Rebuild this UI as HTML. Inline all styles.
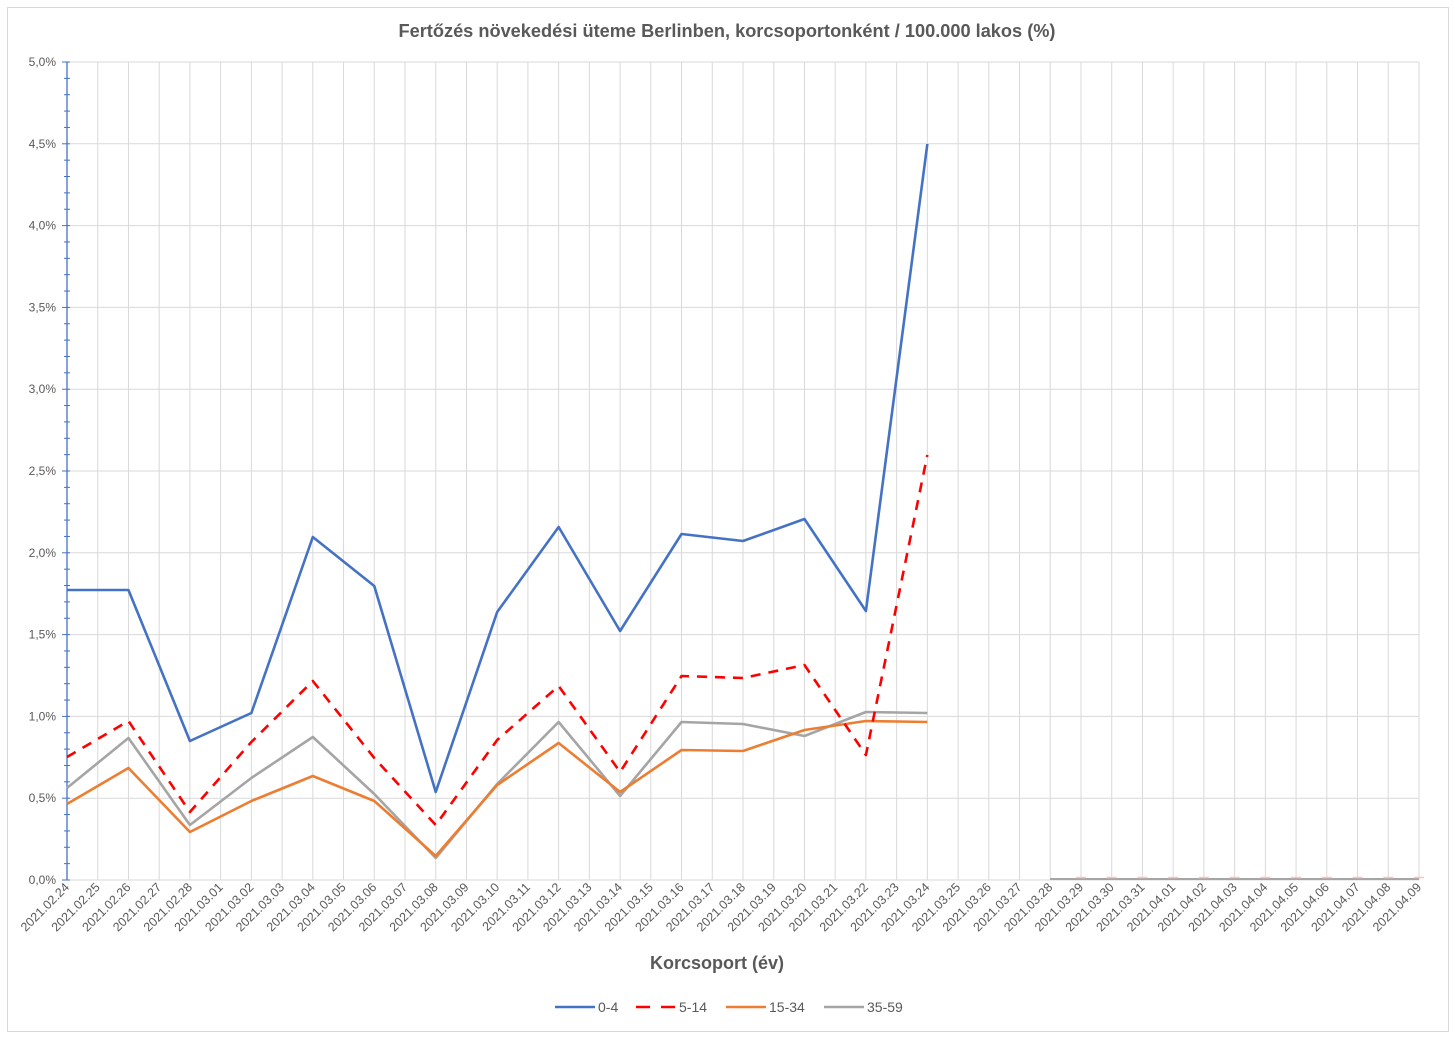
<!DOCTYPE html>
<html><head><meta charset="utf-8"><style>
body{margin:0;background:#fff;}
svg{display:block;font-family:"Liberation Sans",Arial,sans-serif;}
</style></head><body>
<svg id="c" width="1455" height="1038" xmlns="http://www.w3.org/2000/svg"></svg>
<script>
const s=document.getElementById('c');let h='';
h+='<rect x="7.5" y="7.5" width="1441" height="1024" fill="#fff" stroke="#d9d9d9"/>';
h+='<text x="727" y="37" text-anchor="middle" font-size="18.2" font-weight="bold" fill="#595959">Fertőzés növekedési üteme Berlinben, korcsoportonként / 100.000 lakos (%)</text>';
const X0=67,DX=30.727,Y0=880,K=163.6;
for(let i=1;i<45;i++){const x=X0+i*DX;h+=`<line x1="${x}" y1="62" x2="${x}" y2="880" stroke="#d9d9d9"/>`;}
for(let j=0;j<=10;j++){const y=Y0-j*0.5*K;h+=`<line x1="67" y1="${y}" x2="1419" y2="${y}" stroke="#d9d9d9"/>`;
h+=`<text x="56" y="${y+4}" text-anchor="end" font-size="12" fill="#595959">${(j*0.5).toFixed(1).replace('.',',')}%</text>`;}
for(let j=0;j<=50;j++){const y=Y0-j*0.1*K;h+=`<line x1="${j%5?64:62}" y1="${y}" x2="70" y2="${y}" stroke="#4472c4"/>`;}
h+='<line x1="67" y1="62" x2="67" y2="880" stroke="#4472c4" stroke-width="1.3"/>';
let dt=new Date(2021,1,24);
for(let i=0;i<45;i++){const m=String(dt.getMonth()+1).padStart(2,'0'),dd=String(dt.getDate()).padStart(2,'0');
const x=X0+i*DX;h+=`<text transform="translate(${x+3},${888}) rotate(-45)" text-anchor="end" font-size="12.5" fill="#595959">2021.${m}.${dd}</text>`;dt.setDate(dt.getDate()+1);}
h+='<line x1="1050" y1="879" x2="1419" y2="879" stroke="#a5a5a5" stroke-width="2"/>';
for(let i=33;i<45;i++){const x=X0+i*DX;h+=`<line x1="${x-5}" y1="877.5" x2="${x+5}" y2="877.5" stroke="#ffc0c0" stroke-width="1.5"/>`;}
function pl(ys,col,dash){let p=ys.map((y,i)=>`${X0+i*2*DX},${y}`).join(' ');
h+=`<polyline points="${p}" fill="none" stroke="${col}" stroke-width="2.6" stroke-linejoin="round" ${dash?'stroke-dasharray="10,8"':''}/>`;}
pl([788,738,825,778,737,794,858,784,722,796,722,724,736,712,713],'#a5a5a5');
pl([804,768,832,801,776,801,856,785,743,792,750,751,730,721,722],'#ed7d31');
pl([757,721,812,742,681,758,825,740,686,772,676,678,665,755,455],'#ff0000',1);
pl([590,590,741,713,537,586,792,612,527,631,534,541,519,611,144],'#4472c4');
h+='<text x="717" y="969" text-anchor="middle" font-size="18" font-weight="bold" fill="#595959">Korcsoport (év)</text>';
const lg=[[555,'#4472c4','0-4',0],[636,'#ff0000','5-14',1],[726,'#ed7d31','15-34',0],[824,'#a5a5a5','35-59',0]];
for(const [x,c,t,ds] of lg){h+=`<line x1="${x}" y1="1007" x2="${x+40}" y2="1007" stroke="${c}" stroke-width="2.6" ${ds?'stroke-dasharray="14,11"':''}/>`;
h+=`<text x="${x+43}" y="1012" font-size="14" fill="#595959">${t}</text>`;}
s.innerHTML=h;
</script>
</body></html>
